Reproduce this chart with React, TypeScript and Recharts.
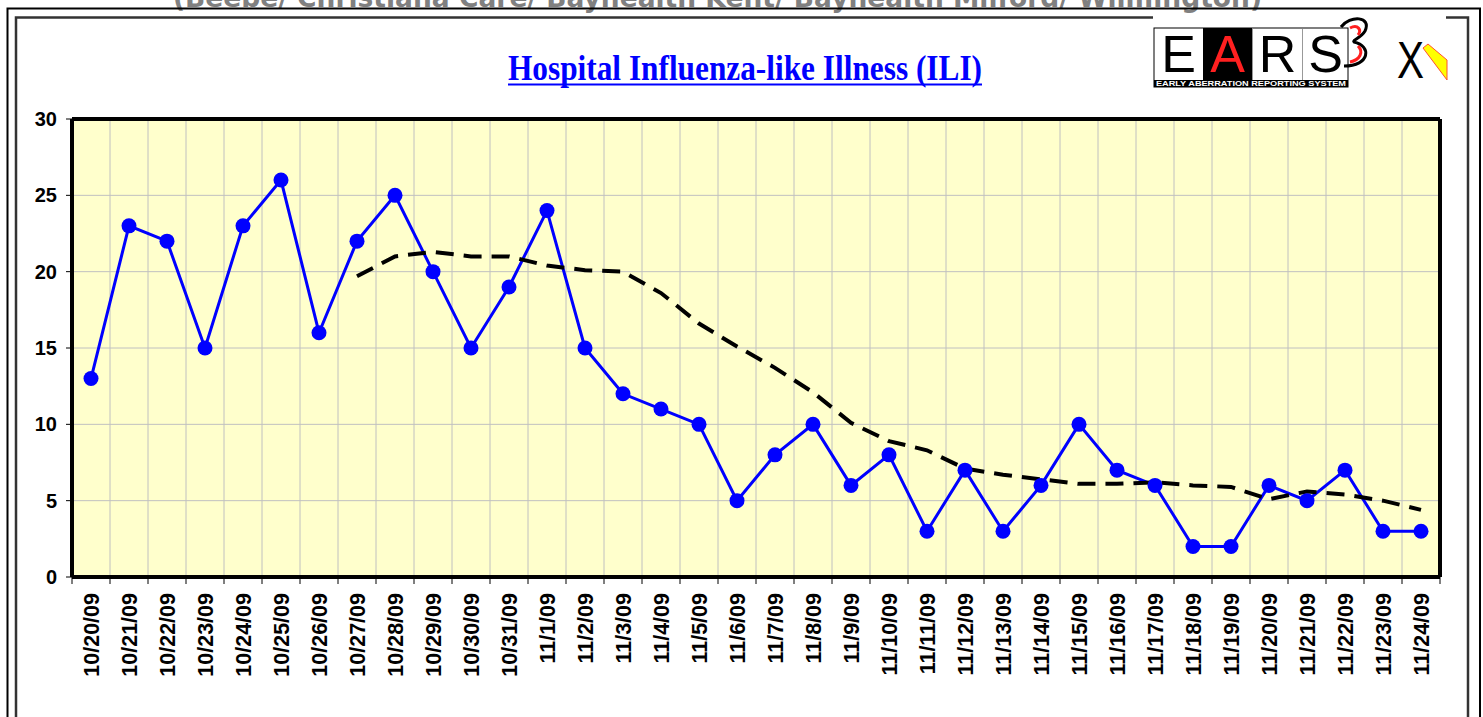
import React from 'react';
import { LineChart, Line, XAxis, YAxis, CartesianGrid, ReferenceLine } from 'recharts';

const dates: string[] = [
  '10/20/09', '10/21/09', '10/22/09', '10/23/09', '10/24/09', '10/25/09', '10/26/09',
  '10/27/09', '10/28/09', '10/29/09', '10/30/09', '10/31/09', '11/1/09', '11/2/09',
  '11/3/09', '11/4/09', '11/5/09', '11/6/09', '11/7/09', '11/8/09', '11/9/09',
  '11/10/09', '11/11/09', '11/12/09', '11/13/09', '11/14/09', '11/15/09', '11/16/09',
  '11/17/09', '11/18/09', '11/19/09', '11/20/09', '11/21/09', '11/22/09', '11/23/09',
  '11/24/09',
];

const iliCounts: number[] = [
  13, 23, 22, 15, 23, 26, 16, 22, 25, 20, 15, 19, 24, 15, 12, 11, 10, 5,
  8, 10, 6, 8, 3, 7, 3, 6, 10, 7, 6, 2, 2, 6, 5, 7, 3, 3,
];

const movingAverage: (number | null)[] = [
  null, null, null, null, null, null, null,
  19.7, 21.0, 21.3, 21.0, 21.0, 20.4, 20.1, 20.0, 18.6, 16.6, 15.1, 13.7,
  12.1, 10.1, 8.9, 8.3, 7.1, 6.7, 6.4, 6.1, 6.1, 6.2, 6.0, 5.9, 5.1, 5.6,
  5.4, 5.0, 4.4,
];

const yTicks: number[] = [0, 5, 10, 15, 20, 25, 30];

const titleText = 'Hospital Influenza-like Illness (ILI)';
const subtitleText = '(Beebe/ Christiana Care/ Bayhealth Kent/ Bayhealth Milford/ Wilmington)';

const data = dates.map((d, i) => ({
  idx: i,
  date: d,
  ili: iliCounts[i],
  avg: movingAverage[i],
}));

const boundaryTicks = dates.map((_, i) => i - 0.5).concat([dates.length - 0.5]);
const centerTicks = dates.map((_, i) => i);
const xDomain: [number, number] = [-0.5, dates.length - 0.5];

const SANS = "'Liberation Sans', Arial, sans-serif";
const SERIF = "'Liberation Serif', 'Times New Roman', serif";

const DateTick = (props: any) => {
  const { x, y, payload } = props;
  return (
    <text
      x={x}
      y={y}
      transform={`rotate(-90 ${x} ${y})`}
      textAnchor="end"
      dy="0.36em"
      fontSize={21.5}
      fontWeight="bold"
      fontFamily={SANS}
      fill="#000"
    >
      {dates[payload.value]}
    </text>
  );
};

const EmptyTick = () => <g />;

const Background = () => (
  <svg width={1483} height={717} style={{ position: 'absolute', left: 0, top: 0 }}>
    <rect x={0} y={0} width={1483} height={717} fill="#fff" />
    <text
      x={173}
      y={7}
      fontSize={27}
      fontWeight="bold"
      fontFamily="'DejaVu Sans', Verdana, sans-serif"
      fill="#808080"
      textLength={1089}
      lengthAdjust="spacingAndGlyphs"
    >
      {subtitleText}
    </text>
    {/* outer frame */}
    <path d="M7.5,730 V8.5 H1480 V730" fill="none" stroke="#000" strokeWidth={2} />
    {/* inner frame */}
    <path d="M1153,17.5 H16 V730 M1446,17.5 H1468 V730" fill="none" stroke="#333" strokeWidth={2.5} />
    {/* title */}
    <text
      x={508}
      y={80}
      fontSize={35}
      fontWeight="bold"
      fontFamily={SERIF}
      fill="#0000FF"
      textLength={474}
      lengthAdjust="spacingAndGlyphs"
    >
      {titleText}
    </text>
    <line x1={508} x2={982} y1={84.5} y2={84.5} stroke="#0000FF" strokeWidth={2} />
    {/* EARS logo */}
    <g>
      <rect x={1154} y={28} width={194} height={59} fill="#fff" stroke="#000" strokeWidth={1} />
      <rect x={1203} y={28} width={49} height={52} fill="#000" />
      <line x1={1252.5} x2={1252.5} y1={29} y2={80} stroke="#999" strokeWidth={1} />
      <line x1={1302.5} x2={1302.5} y1={29} y2={80} stroke="#999" strokeWidth={1} />
      <text x={1178.5} y={72} textAnchor="middle" fontSize={52} fontFamily={SANS} fill="#000">E</text>
      <text x={1227.5} y={72} textAnchor="middle" fontSize={52} fontFamily={SANS} fill="#FF2020">A</text>
      <text x={1277.5} y={72} textAnchor="middle" fontSize={52} fontFamily={SANS} fill="#000">R</text>
      <text x={1325.5} y={72} textAnchor="middle" fontSize={52} fontFamily={SANS} fill="#000">S</text>
      <rect x={1154} y={80} width={194} height={7} fill="#000" />
      <text
        x={1156}
        y={86}
        fontSize={6.5}
        fontWeight="bold"
        fontFamily={SANS}
        fill="#fff"
        textLength={190}
        lengthAdjust="spacingAndGlyphs"
      >
        EARLY ABERRATION REPORTING SYSTEM
      </text>
      <path
        d="M1341,27 C1350,15 1372,16 1365,31 C1361,38 1352,40 1354,42 C1372,46 1370,66 1344,66"
        fill="none"
        stroke="#000"
        strokeWidth={3}
      />
      <path
        d="M1350,28 C1358,24 1362,30 1358,35 M1358,46 C1364,52 1360,60 1350,62"
        fill="none"
        stroke="#FF2020"
        strokeWidth={3}
      />
      <text
        x={1397}
        y={78}
        fontSize={52}
        fontFamily={SANS}
        fill="#000"
        textLength={27}
        lengthAdjust="spacingAndGlyphs"
      >
        X
      </text>
      <polygon points="1423,48 1428,44 1447,60 1447,80" fill="#FFFF00" stroke="#FF5030" strokeWidth={1} />
    </g>
  </svg>
);

export default function App() {
  return (
    <div
      style={{
        position: 'absolute',
        left: 0,
        top: 0,
        width: 1483,
        height: 717,
        overflow: 'hidden',
        background: '#fff',
      }}
    >
      <Background />
      <div style={{ position: 'absolute', left: 0, top: 0 }}>
        <LineChart
          width={1483}
          height={717}
          data={data}
          margin={{ top: 119, right: 43, bottom: 0, left: 0 }}
        >
          <CartesianGrid stroke="#C0C0C0" strokeWidth={1} fill="#FFFFCC" fillOpacity={1} />
          <XAxis
            dataKey="idx"
            type="number"
            domain={xDomain}
            ticks={boundaryTicks}
            interval={0}
            tick={<EmptyTick />}
            tickSize={7}
            tickLine={{ stroke: '#000', strokeWidth: 1 }}
            axisLine={{ stroke: '#000', strokeWidth: 4 }}
            height={8}
            allowDataOverflow
          />
          <XAxis
            xAxisId="lbl"
            dataKey="idx"
            type="number"
            domain={xDomain}
            ticks={centerTicks}
            interval={0}
            tick={<DateTick />}
            tickLine={false}
            axisLine={false}
            tickSize={0}
            tickMargin={8}
            height={132}
            allowDataOverflow
          />
          <YAxis
            type="number"
            domain={[0, 30]}
            ticks={yTicks}
            interval={0}
            width={72}
            tickSize={6}
            tickMargin={9}
            tick={{ fontSize: 20, fontWeight: 'bold', fill: '#000', fontFamily: SANS }}
            tickLine={{ stroke: '#000', strokeWidth: 1 }}
            axisLine={{ stroke: '#000', strokeWidth: 4 }}
            allowDataOverflow
          />
          <ReferenceLine y={30} stroke="#000" strokeWidth={4} />
          <ReferenceLine x={dates.length - 0.5} stroke="#000" strokeWidth={4} />
          <Line
            dataKey="ili"
            stroke="#0000FF"
            strokeWidth={3}
            dot={{ r: 7.5, fill: '#0000FF', stroke: '#0000FF', strokeWidth: 0 }}
            activeDot={false}
            isAnimationActive={false}
          />
          <Line
            dataKey="avg"
            stroke="#000"
            strokeWidth={4}
            strokeDasharray="18 10"
            dot={false}
            activeDot={false}
            connectNulls={false}
            isAnimationActive={false}
          />
        </LineChart>
      </div>
    </div>
  );
}
